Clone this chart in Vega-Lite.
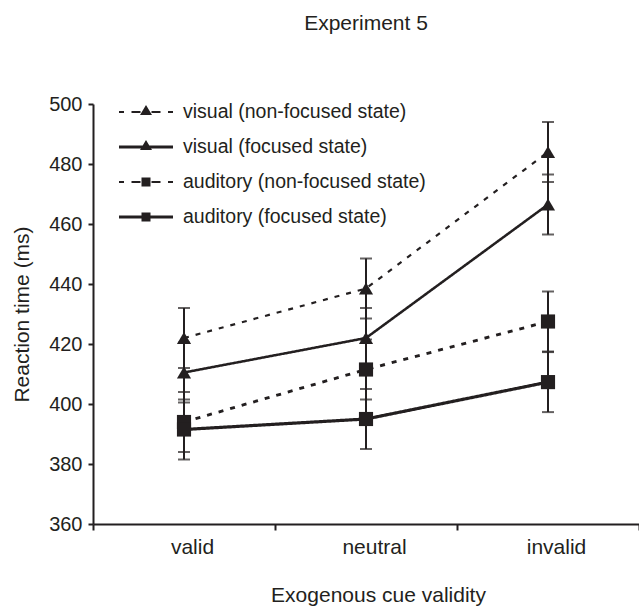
{
  "$schema": "https://vega.github.io/schema/vega-lite/v6.json",
  "width": 546,
  "height": 420,
  "autosize": {"type": "none"},
  "padding": {"left": 93, "top": 104, "right": 0, "bottom": 82},
  "background": "white",
  "title": {
    "text": "Experiment 5",
    "font": "Liberation Sans",
    "fontSize": 21,
    "fontWeight": "normal",
    "color": "#231f20",
    "anchor": "middle",
    "frame": "group",
    "baseline": "alphabetic",
    "offset": 43
  },
  "config": {
    "view": {"stroke": null},
    "font": "Liberation Sans",
    "axis": {
      "labelFont": "Liberation Sans",
      "titleFont": "Liberation Sans",
      "labelColor": "#231f20",
      "titleColor": "#231f20",
      "domainColor": "#231f20",
      "tickColor": "#231f20",
      "domainWidth": 2,
      "tickWidth": 2,
      "grid": false,
      "titleFontWeight": "normal"
    },
    "legend": {"labelFont": "Liberation Sans"}
  },
  "data": {
    "values": [
      {"cue": "valid", "series": "visual (non-focused state)", "rt": 422, "se": 10},
      {"cue": "neutral", "series": "visual (non-focused state)", "rt": 438.5, "se": 10},
      {"cue": "invalid", "series": "visual (non-focused state)", "rt": 484, "se": 10},
      {"cue": "valid", "series": "visual (focused state)", "rt": 410.5, "se": 10},
      {"cue": "neutral", "series": "visual (focused state)", "rt": 422, "se": 10},
      {"cue": "invalid", "series": "visual (focused state)", "rt": 466.5, "se": 10},
      {"cue": "valid", "series": "auditory (non-focused state)", "rt": 394, "se": 10},
      {"cue": "neutral", "series": "auditory (non-focused state)", "rt": 411.5, "se": 10},
      {"cue": "invalid", "series": "auditory (non-focused state)", "rt": 427.5, "se": 10},
      {"cue": "valid", "series": "auditory (focused state)", "rt": 391.5, "se": 10},
      {"cue": "neutral", "series": "auditory (focused state)", "rt": 395, "se": 10},
      {"cue": "invalid", "series": "auditory (focused state)", "rt": 407.3, "se": 10}
    ]
  },
  "encoding": {
    "x": {
      "field": "cue",
      "type": "nominal",
      "sort": ["valid", "neutral", "invalid"],
      "scale": {"paddingInner": 0, "paddingOuter": 0},
      "axis": {
        "title": "Exogenous cue validity",
        "titleFontSize": 21,
        "titlePadding": 27,
        "titleX": 285,
        "labelAngle": 0,
        "labelFontSize": 21,
        "labelPadding": 6,
        "labelOffset": 8,
        "tickBand": "extent",
        "tickSize": 6
      }
    },
    "y": {
      "field": "rt",
      "type": "quantitative",
      "scale": {"domain": [360, 500], "nice": false, "zero": false},
      "axis": {
        "title": "Reaction time (ms)",
        "titleFontSize": 21,
        "titlePadding": 16,
        "values": [360, 380, 400, 420, 440, 460, 480, 500],
        "labelFontSize": 20,
        "labelPadding": 6,
        "tickSize": 5
      }
    }
  },
  "layer": [
    {
      "mark": {
        "type": "errorbar",
        "color": "#231f20",
        "thickness": 2,
        "ticks": {"size": 12, "thickness": 2, "color": "#231f20"}
      },
      "encoding": {
        "y": {"field": "rt", "type": "quantitative"},
        "yError": {"field": "se"}
      }
    },
    {
      "mark": {"type": "line", "color": "#231f20"},
      "encoding": {
        "detail": {"field": "series"},
        "strokeDash": {
          "field": "series",
          "type": "nominal",
          "scale": {
            "domain": ["visual (non-focused state)", "visual (focused state)", "auditory (non-focused state)", "auditory (focused state)"],
            "range": [[5, 7], [1, 0], [5, 7], [1, 0]]
          },
          "legend": null
        },
        "strokeWidth": {
          "field": "series",
          "type": "nominal",
          "scale": {
            "domain": ["visual (non-focused state)", "visual (focused state)", "auditory (non-focused state)", "auditory (focused state)"],
            "range": [2.2, 3.2, 2.2, 3.2]
          },
          "legend": null
        }
      }
    },
    {
      "mark": {"type": "point", "filled": true, "opacity": 1, "color": "#231f20"},
      "encoding": {
        "shape": {
          "field": "series",
          "type": "nominal",
          "scale": {
            "domain": ["visual (non-focused state)", "visual (focused state)", "auditory (non-focused state)", "auditory (focused state)"],
            "range": ["triangle-up", "triangle-up", "square", "square"]
          },
          "legend": null
        },
        "size": {"value": 200}
      }
    },
    {
      "transform": [{"filter": "false"}],
      "mark": {"type": "point", "filled": true, "opacity": 1, "color": "#231f20"},
      "encoding": {
        "shape": {
          "field": "series",
          "type": "nominal",
          "scale": {
            "domain": ["visual (non-focused state)", "visual (focused state)", "auditory (non-focused state)", "auditory (focused state)"],
            "range": [
              "M-2.7,-0.1L-2.2,-0.1L-2.2,0.1L-2.7,0.1Z M-1.45,-0.1L-0.55,-0.1L-0.55,0.1L-1.45,0.1Z M0.55,-0.1L1.45,-0.1L1.45,0.1L0.55,0.1Z M2.2,-0.1L2.7,-0.1L2.7,0.1L2.2,0.1Z M-0.6,0.3L0,-0.7L0.6,0.3Z",
              "M-2.7,-0.15L2.7,-0.15L2.7,0.15L-2.7,0.15Z M-0.6,0.3L0,-0.7L0.6,0.3Z",
              "M-2.7,-0.1L-2.2,-0.1L-2.2,0.1L-2.7,0.1Z M-1.45,-0.1L-0.55,-0.1L-0.55,0.1L-1.45,0.1Z M0.55,-0.1L1.45,-0.1L1.45,0.1L0.55,0.1Z M2.2,-0.1L2.7,-0.1L2.7,0.1L2.2,0.1Z M-0.45,-0.45L0.45,-0.45L0.45,0.45L-0.45,0.45Z",
              "M-2.7,-0.15L2.7,-0.15L2.7,0.15L-2.7,0.15Z M-0.45,-0.45L0.45,-0.45L0.45,0.45L-0.45,0.45Z"
            ]
          },
          "legend": {
            "title": null,
            "orient": "none",
            "legendX": 43,
            "legendY": -2,
            "padding": 0,
            "symbolSize": 400,
            "symbolFillColor": "#231f20",
            "symbolStrokeWidth": 0,
            "symbolOpacity": 1,
            "labelFontSize": 19.5,
            "labelColor": "#231f20",
            "labelOffset": 27,
            "rowPadding": 15,
            "labelLimit": 400
          }
        }
      }
    }
  ],
  "resolve": {"scale": {"shape": "independent"}}
}
